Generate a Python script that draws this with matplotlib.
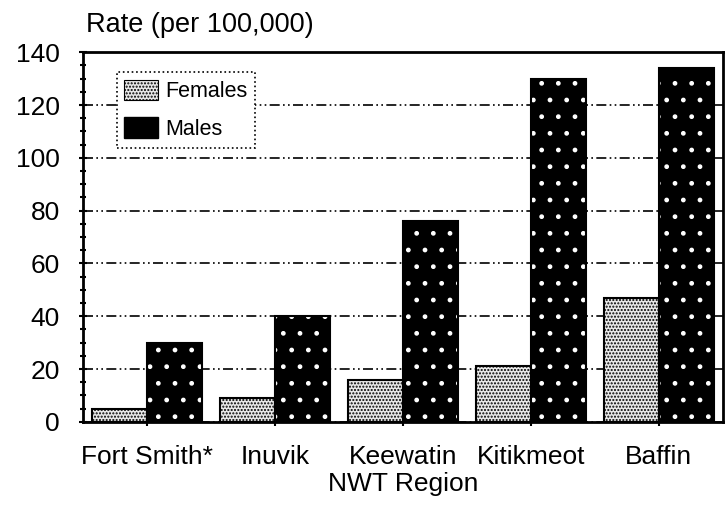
import numpy as np
import matplotlib
matplotlib.use("Agg")
import matplotlib.pyplot as plt
from matplotlib.patches import Patch

regions = ["Fort Smith*", "Inuvik", "Keewatin", "Kitikmeot", "Baffin"]
females = [5, 9, 16, 21, 47]
males = [30, 40, 76, 130, 134]

plt.rcParams['font.family'] = ['Liberation Sans', 'DejaVu Sans']
plt.rcParams['hatch.linewidth'] = 1.0

fig = plt.figure(figsize=(7.25, 5.07), dpi=100)
ax = fig.add_axes([0.115, 0.168, 0.882, 0.729])

x = np.arange(len(regions))
w = 0.43

# females: stippled
ax.bar(x - w / 2, females, w, color="#e8e8e8", edgecolor="black",
       hatch=".....", linewidth=1.5, zorder=3)
# males: black with small white dots
ax.bar(x + w / 2, males, w, color="black", edgecolor="white",
       hatch=".", linewidth=0, zorder=3)
ax.bar(x + w / 2, males, w, color="none", edgecolor="black",
       linewidth=1.5, zorder=4)

ax.set_xlim(-0.5, 4.5)
ax.set_ylim(0, 140)
ax.set_yticks(np.arange(0, 141, 20))
ax.set_yticks(np.arange(0, 141, 5), minor=True)
ax.set_xticks(x)
ax.set_xticklabels(regions)
ax.tick_params(axis="both", labelsize=19, width=1.5, length=6, direction="inout")
ax.tick_params(axis="y", which="minor", length=5, width=1.5, direction="inout")
ax.tick_params(axis="y", pad=14)
ax.tick_params(axis="x", pad=14)

ax.grid(axis="y", color="black", linestyle=(0, (6, 2, 1, 2, 1, 2)), linewidth=1.2, zorder=0)
for s in ax.spines.values():
    s.set_linewidth(2)

ax.set_xlabel("NWT Region", fontsize=19, labelpad=2)
fig.text(0.118, 0.925, "Rate (per 100,000)", fontsize=19.5, ha="left", va="bottom")

handles = [Patch(facecolor="#e8e8e8", edgecolor="black", hatch=".....", linewidth=0.8, label="Females"),
           Patch(facecolor="black", edgecolor="black", label="Males")]
leg = ax.legend(handles=handles, loc="upper left", bbox_to_anchor=(0.035, 0.975),
                fontsize=15.5, fancybox=False, framealpha=1, edgecolor="black",
                handlelength=1.6, handleheight=1.1, handletextpad=0.3,
                borderpad=0.35, labelspacing=0.7)
leg.get_frame().set_linestyle(":")
leg.get_frame().set_linewidth(1.2)

fig.savefig("out.png", dpi=100)
